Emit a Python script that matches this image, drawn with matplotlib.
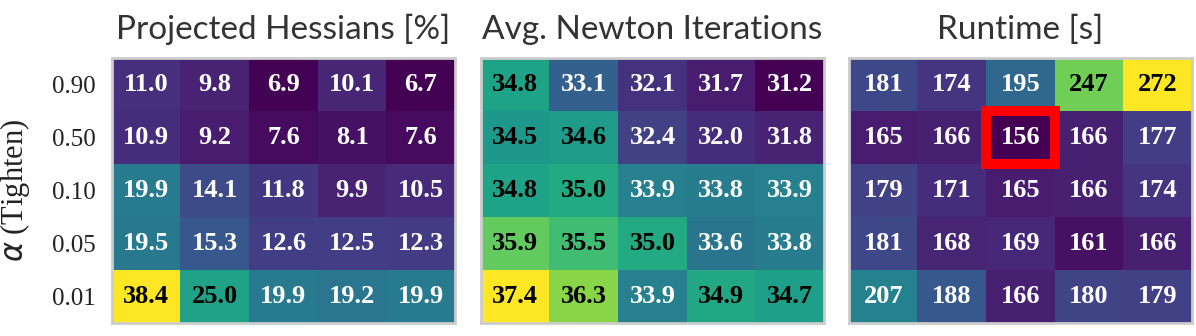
import matplotlib
matplotlib.use("Agg")
import matplotlib.pyplot as plt
import numpy as np
from matplotlib.patches import Rectangle

alphas = ["0.90", "0.50", "0.10", "0.05", "0.01"]

projected = [
    [11.0, 9.8, 6.9, 10.1, 6.7],
    [10.9, 9.2, 7.6, 8.1, 7.6],
    [19.9, 14.1, 11.8, 9.9, 10.5],
    [19.5, 15.3, 12.6, 12.5, 12.3],
    [38.4, 25.0, 19.9, 19.2, 19.9],
]
newton = [
    [34.8, 33.1, 32.1, 31.7, 31.2],
    [34.5, 34.6, 32.4, 32.0, 31.8],
    [34.8, 35.0, 33.9, 33.8, 33.9],
    [35.9, 35.5, 35.0, 33.6, 33.8],
    [37.4, 36.3, 33.9, 34.9, 34.7],
]
runtime = [
    [181, 174, 195, 247, 272],
    [165, 166, 156, 166, 177],
    [179, 171, 165, 166, 174],
    [181, 168, 169, 161, 166],
    [207, 188, 166, 180, 179],
]
titles = ["Projected Hessians [%]", "Avg. Newton Iterations", "Runtime [s]"]
formats = ["{:.1f}", "{:.1f}", "{:.0f}"]
highlight = (1, 2)  # row, col in runtime

W, H = 1196, 336
fig = plt.figure(figsize=(W / 100, H / 100), dpi=100)

lefts = [112, 481, 849]
width = 343
top, bottom = 58, 323

datasets = [projected, newton, runtime]
axes = []
for i, (data, title, fmt) in enumerate(zip(datasets, titles, formats)):
    arr = np.array(data, dtype=float)
    ax = fig.add_axes([lefts[i] / W, 1 - bottom / H, width / W, (bottom - top) / H])
    axes.append(ax)
    vmin, vmax = arr.min(), arr.max()
    ax.imshow(arr, cmap="viridis", vmin=vmin, vmax=vmax, aspect="auto",
              interpolation="nearest")
    for r in range(arr.shape[0]):
        for c in range(arr.shape[1]):
            v = arr[r, c]
            norm = (v - vmin) / (vmax - vmin)
            col = "black" if norm > 0.5 else "white"
            ax.text(c, r, fmt.format(v), ha="center", va="center",
                    color=col, fontsize=19, fontweight="bold",
                    family="Liberation Serif")
    ax.set_xticks([])
    ax.set_yticks(range(len(alphas)))
    if i == 0:
        ax.set_yticklabels(alphas, family="Liberation Serif", fontsize=18,
                           color="#222222")
        ax.set_ylabel(r"$\alpha$ (Tighten)", family="Liberation Serif",
                      fontsize=22, color="#222222", labelpad=14)
    else:
        ax.set_yticklabels([])
    ax.tick_params(axis="both", length=0, pad=12)
    for s in ax.spines.values():
        s.set_color("#cccccc")
        s.set_linewidth(2)
    ax.set_title(title, family="Lato", fontsize=24, color="#333333", pad=14)

r, c = highlight
axes[2].add_patch(Rectangle((c - 0.5, r - 0.5), 1, 1, fill=False,
                            edgecolor="#ff0000", linewidth=7.2, clip_on=False))

fig.savefig("out.png", dpi=100)
